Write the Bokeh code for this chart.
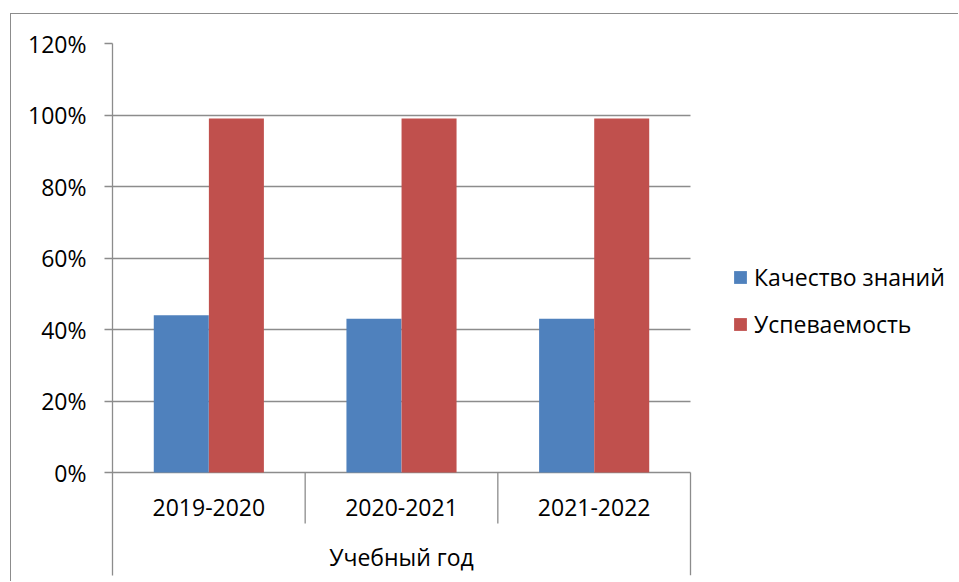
from bokeh.plotting import figure
from bokeh.models import (Range1d, FixedTicker, LinearAxis, Legend, LegendItem)
from bokeh.core.properties import value
from bokeh.embed import file_html
from bokeh.resources import INLINE

categories = ["2019-2020", "2020-2021", "2021-2022"]
quality = [44, 43, 43]
progress = [99, 99, 99]
series_names = ["Качество знаний", "Успеваемость"]
axis_title = "Учебный год"
y_ticks = [0, 20, 40, 60, 80, 100, 120]
y_tick_labels = ["0%", "20%", "40%", "60%", "80%", "100%", "120%"]

FONT = "Open Sans"
FS = "23px"
GRAY = "#8c8c8c"
BLUE = "#4F81BD"
RED = "#C0504D"

W, H = 948, 568
LEFT, TOP, BOTTOM = 101, 29, 7
PX_PER_UNIT = 429 / 120.0          # pixels per percent
Y0 = -103 / PX_PER_UNIT            # frame extends below the 0% line
n = len(categories)
frame_w = W - LEFT
X1 = n * frame_w / 578.0

p = figure(width=W, height=H, output_backend="svg", toolbar_location=None,
           x_range=Range1d(0, X1), y_range=Range1d(Y0, 120),
           min_border_left=LEFT, min_border_top=TOP, min_border_right=0, min_border_bottom=BOTTOM,
           x_axis_location=None, y_axis_location=None)
p.styles = {"margin-left": "10px", "margin-top": "13px",
            "border-top": "1px solid #8c8c8c", "border-left": "1px solid #8c8c8c"}
p.outline_line_color = None
p.background_fill_color = "white"
p.border_fill_color = "white"

centers = [i + 0.5 for i in range(n)]
bw = 0.2855
off = 0.143
r1 = p.vbar(x=[c - off for c in centers], top=quality, width=bw, bottom=0,
            fill_color=BLUE, line_color=None)
r2 = p.vbar(x=[c + off for c in centers], top=progress, width=bw, bottom=0,
            fill_color=RED, line_color=None)

# y axis
yax = LinearAxis(ticker=FixedTicker(ticks=y_ticks, minor_ticks=[]))
yax.major_label_overrides = {t: l for t, l in zip(y_ticks, y_tick_labels)}
yax.axis_line_color = GRAY
yax.axis_line_width = 1.3
yax.major_tick_line_color = GRAY
yax.major_tick_line_width = 1.3
yax.major_tick_in = 0
yax.major_tick_out = 8
yax.minor_tick_line_color = None
yax.major_label_standoff = 18
yax.major_label_text_font = FONT
yax.major_label_text_font_size = FS
yax.major_label_text_color = "black"
p.add_layout(yax, "left")

# grid (the 0% line acts as the category axis line), limited to the category area
p.xgrid.grid_line_color = None
try:
    p.ygrid.cross_bounds = (0, n)
    p.ygrid.ticker = FixedTicker(ticks=y_ticks)
    p.ygrid.grid_line_color = GRAY
    p.ygrid.grid_line_width = 1.3
except AttributeError:
    p.ygrid.grid_line_color = None
    p.segment(x0=[0] * len(y_ticks), y0=y_ticks, x1=[n] * len(y_ticks), y1=y_ticks,
              line_color=GRAY, line_width=1.3, level="underlay")

# category separators below the axis
bounds = list(range(n + 1))
inner = bounds[1:-1]
p.segment(x0=inner, y0=[0] * len(inner), x1=inner, y1=[-51 / PX_PER_UNIT] * len(inner),
          line_color=GRAY, line_width=1.3)
p.segment(x0=[bounds[-1]], y0=[0], x1=[bounds[-1]], y1=[Y0],
          line_color=GRAY, line_width=1.3)

# category labels and axis title
p.text(x=centers, y=[-35 / PX_PER_UNIT] * n, text=categories,
       text_font=value(FONT), text_font_size=FS, text_color="black",
       text_align="center", text_baseline="middle")
p.text(x=[n / 2], y=[-84 / PX_PER_UNIT], text=[axis_title],
       text_font=value(FONT), text_font_size=FS, text_color="black",
       text_align="center", text_baseline="middle")

legend = Legend(items=[LegendItem(label=series_names[0], renderers=[r1]),
                       LegendItem(label=series_names[1], renderers=[r2])],
                location=(620, 235), orientation="vertical")
legend.border_line_color = None
legend.background_fill_alpha = 0
legend.padding = 0
legend.margin = 0
legend.glyph_width = 16
legend.glyph_height = 16
legend.label_height = 31
legend.label_standoff = 6
legend.spacing = 15
legend.label_text_font = FONT
legend.label_text_font_size = FS
legend.label_text_color = "black"
legend.label_text_baseline = "middle"
p.add_layout(legend, "center")

open("out.html", "w").write(file_html(p, INLINE))
